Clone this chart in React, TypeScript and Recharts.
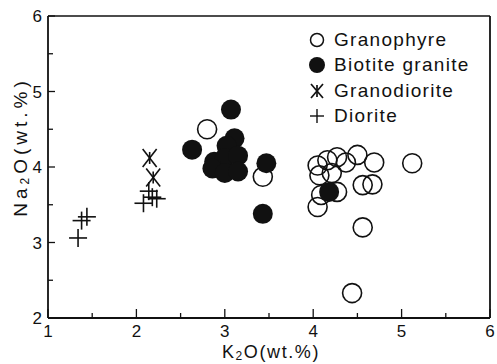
import { ScatterChart, Scatter, XAxis, YAxis, ReferenceLine, Label } from "recharts";

// K2O vs Na2O (wt.%) by rock type
const granophyre = [
  { k: 2.8, na: 4.5 },
  { k: 3.43, na: 3.87 },
  { k: 4.05, na: 4.02 },
  { k: 4.16, na: 4.09 },
  { k: 4.27, na: 4.13 },
  { k: 4.37, na: 4.06 },
  { k: 4.5, na: 4.16 },
  { k: 4.69, na: 4.06 },
  { k: 4.07, na: 3.89 },
  { k: 4.21, na: 3.92 },
  { k: 4.27, na: 3.67 },
  { k: 4.09, na: 3.63 },
  { k: 4.05, na: 3.47 },
  { k: 4.56, na: 3.76 },
  { k: 4.67, na: 3.77 },
  { k: 4.56, na: 3.2 },
  { k: 4.44, na: 2.33 },
  { k: 5.12, na: 4.05 },
];

const biotiteGranite = [
  { k: 3.07, na: 4.76 },
  { k: 2.63, na: 4.23 },
  { k: 3.11, na: 4.38 },
  { k: 3.02, na: 4.28 },
  { k: 2.88, na: 4.07 },
  { k: 3.0, na: 4.12 },
  { k: 3.15, na: 4.15 },
  { k: 2.86, na: 3.98 },
  { k: 3.0, na: 3.92 },
  { k: 3.15, na: 3.94 },
  { k: 3.47, na: 4.05 },
  { k: 3.43, na: 3.38 },
  { k: 4.18, na: 3.67 },
];

const granodiorite = [
  { k: 2.15, na: 4.12 },
  { k: 2.19, na: 3.86 },
];

const diorite = [
  { k: 1.34, na: 3.06 },
  { k: 1.38, na: 3.29 },
  { k: 1.44, na: 3.34 },
  { k: 2.14, na: 3.68 },
  { k: 2.08, na: 3.52 },
  { k: 2.18, na: 3.6 },
  { k: 2.23, na: 3.58 },
];

const xTicks = [1, 1.5, 2, 2.5, 3, 3.5, 4, 4.5, 5, 5.5, 6];
const yTicks = [2, 2.5, 3, 3.5, 4, 4.5, 5, 5.5, 6];
const legendNames = ["Granophyre", "Biotite granite", "Granodiorite", "Diorite"];

const FONT = "'Liberation Sans', Arial, sans-serif";
const INK = "#111";

const OpenCircle = (p: any) => (
  <circle cx={p.cx} cy={p.cy} r={9.5} fill="none" stroke={INK} strokeWidth={1.6} />
);
const FilledCircle = (p: any) => <circle cx={p.cx} cy={p.cy} r={10} fill={INK} />;
const Star = (p: any) => (
  <g stroke={INK} strokeWidth={1.6}>
    <line x1={p.cx - 7} y1={p.cy - 9} x2={p.cx + 7} y2={p.cy + 9} />
    <line x1={p.cx - 7} y1={p.cy + 9} x2={p.cx + 7} y2={p.cy - 9} />
    <line x1={p.cx} y1={p.cy - 6} x2={p.cx} y2={p.cy + 6} />
  </g>
);
const Plus = (p: any) => (
  <g stroke={INK} strokeWidth={1.6}>
    <line x1={p.cx - 9} y1={p.cy} x2={p.cx + 9} y2={p.cy} />
    <line x1={p.cx} y1={p.cy - 9} x2={p.cx} y2={p.cy + 9} />
  </g>
);

function XTick({ x, y, payload }: any) {
  const major = Number.isInteger(payload.value);
  return (
    <g>
      <line x1={x} x2={x} y1={y} y2={y - (major ? 9 : 5)} stroke={INK} strokeWidth={1.3} />
      {major && (
        <text x={x} y={y + 19} textAnchor="middle" fontSize={17} fontFamily={FONT} fill={INK}>
          {payload.value}
        </text>
      )}
    </g>
  );
}

function YTick({ x, y, payload }: any) {
  const major = Number.isInteger(payload.value);
  return (
    <g>
      <line x1={x} x2={x + (major ? 7 : 5)} y1={y} y2={y} stroke={INK} strokeWidth={1.3} />
      {major && (
        <text x={x - 6} y={y + 6} textAnchor="end" fontSize={17} fontFamily={FONT} fill={INK}>
          {payload.value}
        </text>
      )}
    </g>
  );
}

function LegendIcon({ name }: { name: string }) {
  return (
    <svg width={20} height={22} style={{ marginRight: 7 }}>
      {name === "Granophyre" && <circle cx={10} cy={11} r={6.5} fill="none" stroke={INK} strokeWidth={1.5} />}
      {name === "Biotite granite" && <circle cx={10} cy={11} r={8} fill={INK} />}
      {name === "Granodiorite" && (
        <g stroke={INK} strokeWidth={1.7}>
          <line x1={4} y1={4} x2={16} y2={18} />
          <line x1={4} y1={18} x2={16} y2={4} />
          <line x1={10} y1={5} x2={10} y2={17} />
        </g>
      )}
      {name === "Diorite" && (
        <g stroke={INK} strokeWidth={1.4}>
          <line x1={3} y1={11} x2={17} y2={11} />
          <line x1={10} y1={4} x2={10} y2={18} />
        </g>
      )}
    </svg>
  );
}

export default function App() {
  return (
    <div style={{ position: "absolute", left: 0, top: 0, width: 497, height: 364, background: "#fff" }}>
      <ScatterChart width={497} height={364} margin={{ top: 16, right: 7, left: 0, bottom: 0 }}>
        <XAxis
          type="number"
          dataKey="k"
          domain={[1, 6]}
          ticks={xTicks}
          interval={0}
          height={46}
          tickSize={0}
          tickMargin={0}
          tickLine={false}
          axisLine={{ stroke: INK, strokeWidth: 1.8 }}
          tick={<XTick />}
        >
          <Label
            content={() => (
              <text x={271} y={358} textAnchor="middle" fontSize={18} fontFamily={FONT} fill={INK} letterSpacing={1.6}>
                K<tspan fontSize={12} dy={2}>2</tspan>
                <tspan dy={-2}>O(wt.%)</tspan>
              </text>
            )}
          />
        </XAxis>
        <YAxis
          type="number"
          dataKey="na"
          domain={[2, 6]}
          ticks={yTicks}
          interval={0}
          width={48}
          tickSize={0}
          tickMargin={0}
          tickLine={false}
          axisLine={{ stroke: INK, strokeWidth: 1.8 }}
          tick={<YTick />}
        >
          <Label
            content={() => (
              <text
                x={0}
                y={0}
                transform="translate(27,147) rotate(-90)"
                textAnchor="middle"
                fontSize={19}
                fontFamily={FONT}
                fill={INK}
                letterSpacing={4}
              >
                Na<tspan fontSize={12} dy={2}>2</tspan>
                <tspan dy={-2}>O(wt.%)</tspan>
              </text>
            )}
          />
        </YAxis>
        <ReferenceLine y={6} stroke={INK} strokeWidth={1.6} />
        <ReferenceLine x={6} stroke={INK} strokeWidth={1.8} />
        <Scatter name="Granophyre" data={granophyre} shape={OpenCircle} isAnimationActive={false} />
        <Scatter name="Biotite granite" data={biotiteGranite} shape={FilledCircle} isAnimationActive={false} />
        <Scatter name="Granodiorite" data={granodiorite} shape={Star} isAnimationActive={false} />
        <Scatter name="Diorite" data={diorite} shape={Plus} isAnimationActive={false} />
      </ScatterChart>
      <div
        style={{
          position: "absolute",
          left: 307,
          top: 27,
          fontFamily: FONT,
          fontSize: 19,
          color: INK,
          letterSpacing: 1.3,
        }}
      >
        {legendNames.map((name) => (
          <div key={name} style={{ display: "flex", alignItems: "center", height: 25.5 }}>
            <LegendIcon name={name} />
            <span>{name}</span>
          </div>
        ))}
      </div>
    </div>
  );
}
